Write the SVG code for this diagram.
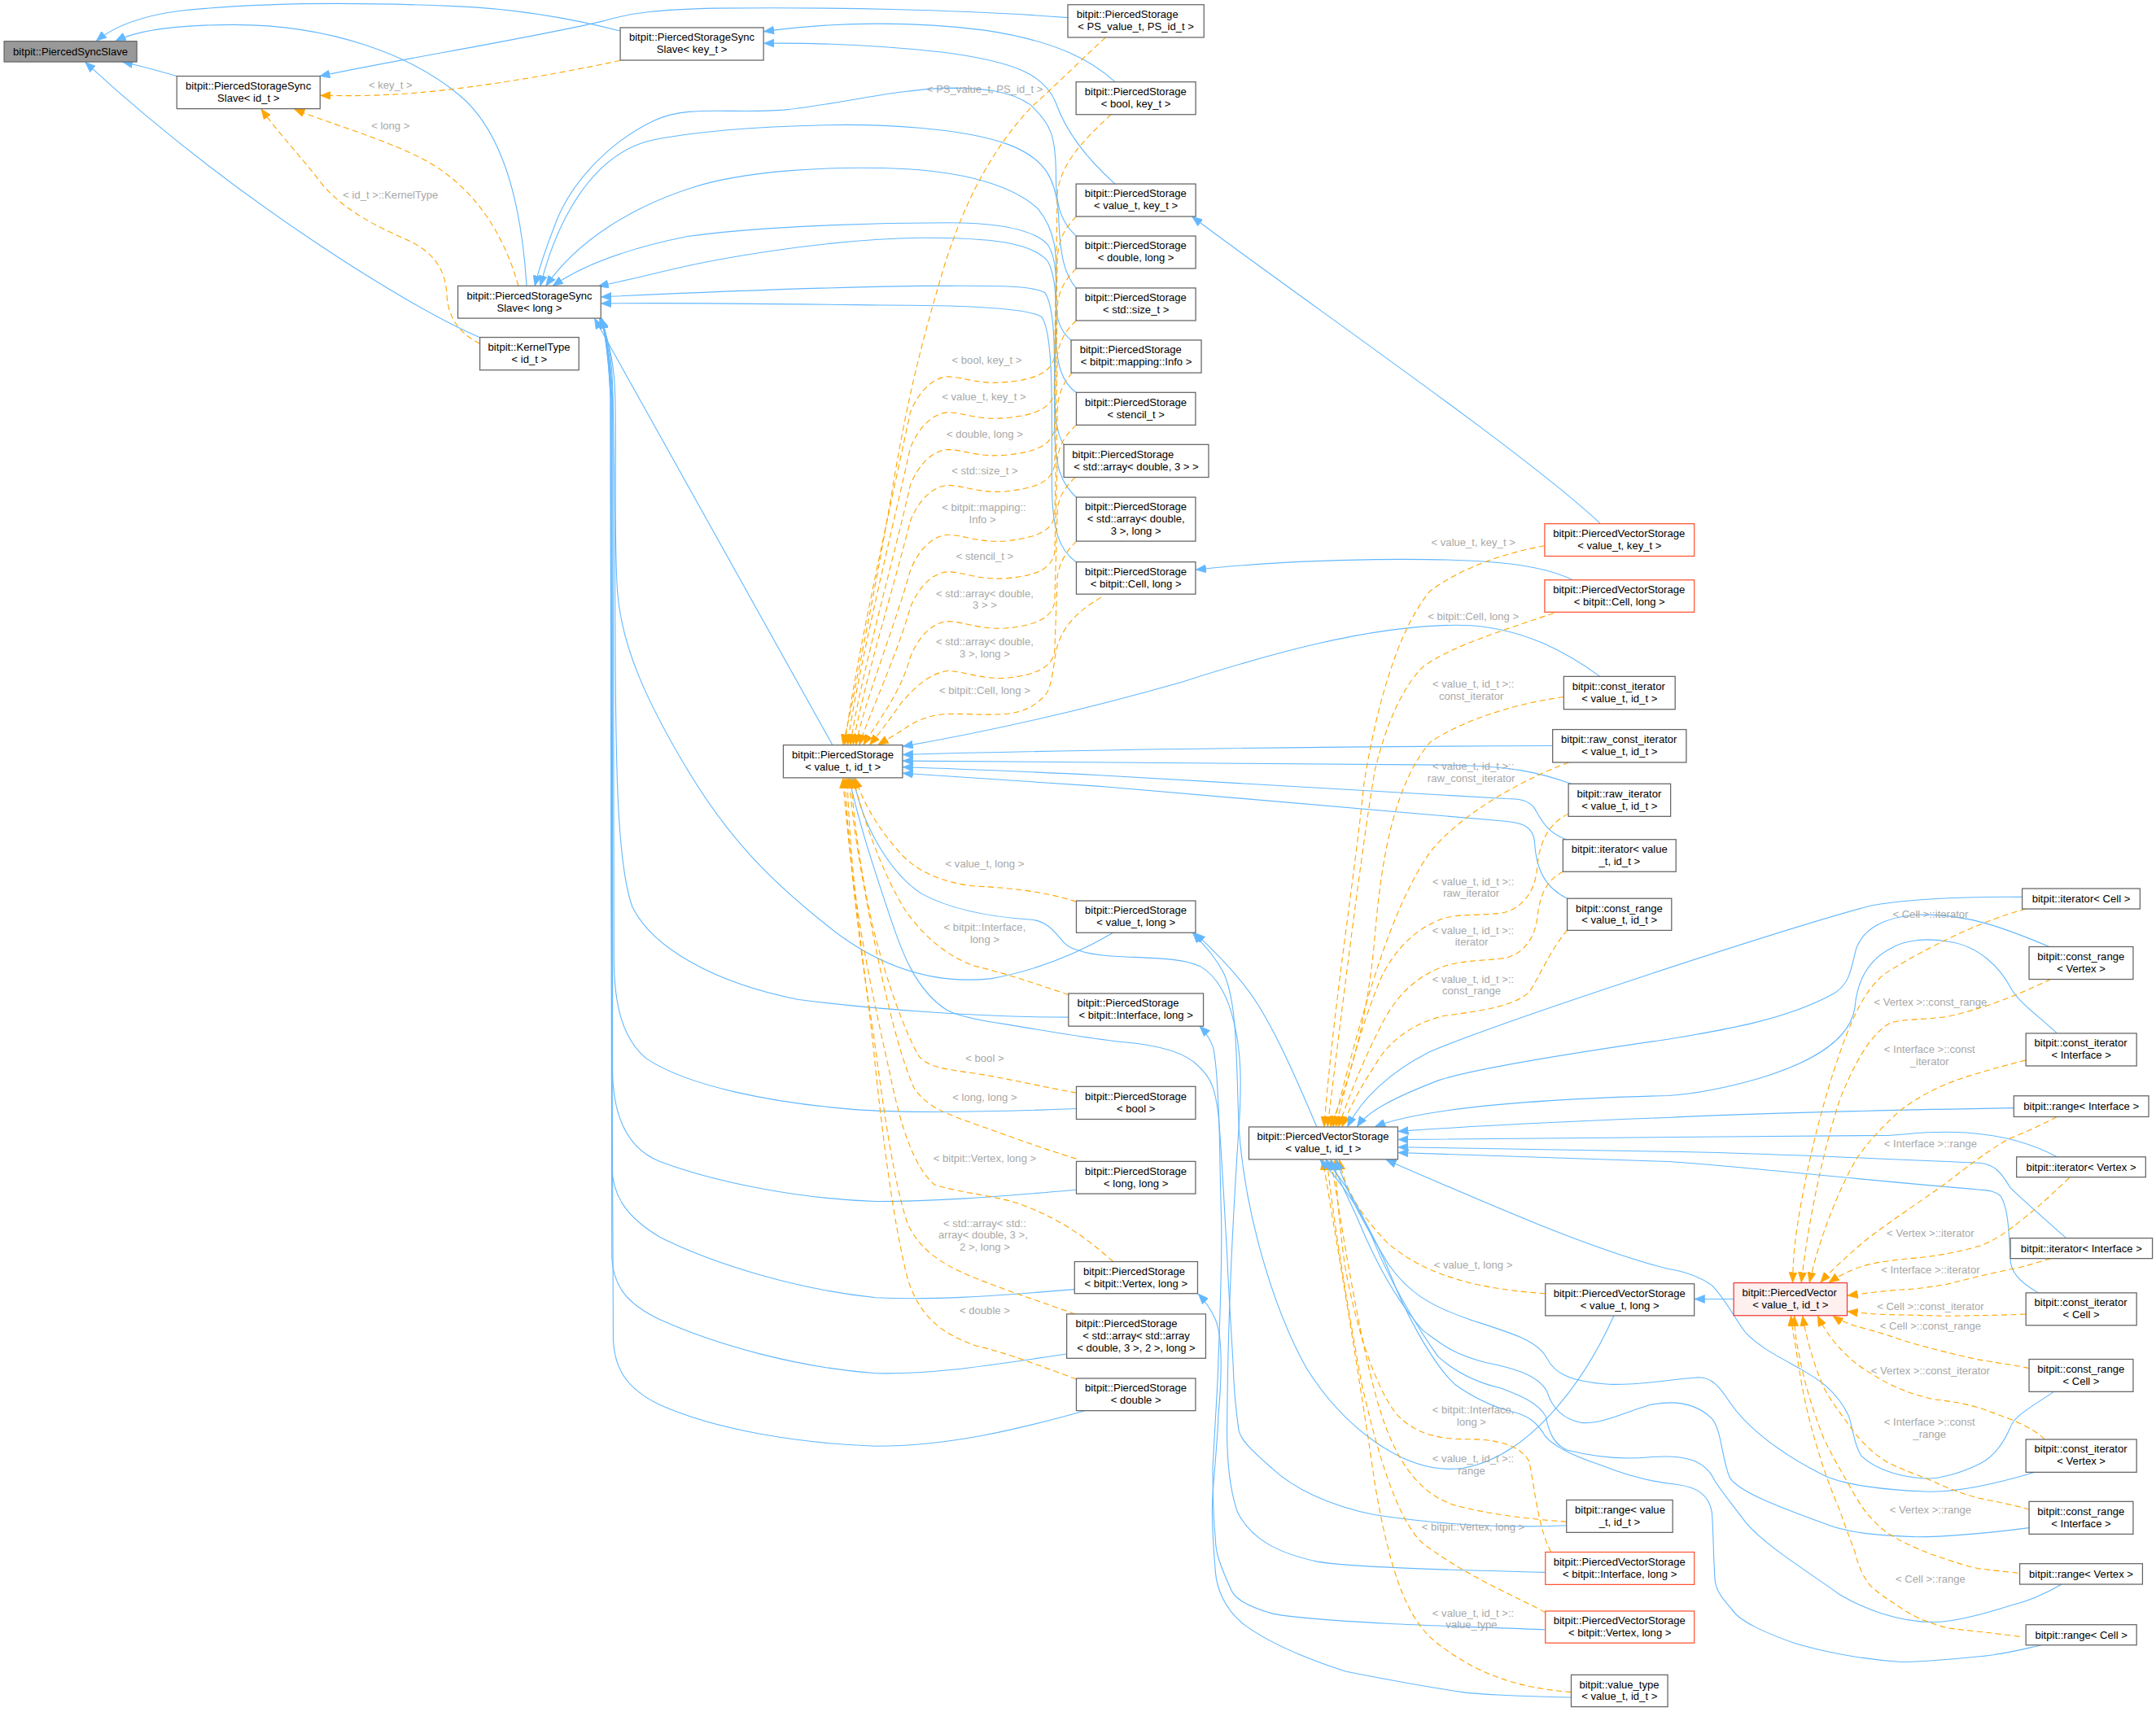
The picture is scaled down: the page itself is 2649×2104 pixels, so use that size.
<svg xmlns="http://www.w3.org/2000/svg" width="2649" height="2104" viewBox="0 0 2649 2104">
<style>
text{font-family:"Liberation Sans",Arial,Helvetica,sans-serif;font-size:7.75px;fill:#000}
.s{text-anchor:start}
.m{text-anchor:middle}
.lb{fill:#a8a8a8;text-anchor:middle}
.n rect{fill:#fff;stroke:#666;stroke-width:.75}
.nr rect{fill:#fff;stroke:#ff5533;stroke-width:.75}
.b{fill:none;stroke:#63b8ff;stroke-width:.65;marker-end:url(#ab)}
.o{fill:none;stroke:#ffa500;stroke-width:.65;stroke-dasharray:4.2 2.6;marker-end:url(#ao)}
</style>
<defs>
<marker id="ab" viewBox="0 0 10 8" refX="10" refY="4" markerWidth="7.5" markerHeight="6" markerUnits="userSpaceOnUse" orient="auto" preserveAspectRatio="none"><path d="M0,0 L10,4 L0,8 z" fill="#63b8ff" stroke="#63b8ff" stroke-width=".5"/></marker>
<marker id="ao" viewBox="0 0 10 8" refX="10" refY="4" markerWidth="7.5" markerHeight="6" markerUnits="userSpaceOnUse" orient="auto" preserveAspectRatio="none"><path d="M0,0 L10,4 L0,8 z" fill="#ffa500" stroke="#ffa500" stroke-width=".5"/></marker>
</defs>
<rect x="0" y="0" width="2649" height="2104" fill="#fff"/>
<g transform="scale(1.6894)">
<g id="connectors">
<!-- into PiercedSyncSlave -->
<path class="b" d="M129,55.5 C115,51.5 101,47.5 89,45"/>
<path class="b" d="M349,245.5 C300,225 170,145 62,45.2"/>
<path class="b" d="M383,208 C380,160 370,100 335,70 C300,40 240,18 170,18 C130,18 100,22 84,29.8"/>
<path class="b" d="M451.1,22.5 C410,12 370,6 330,4.5 C260,1.5 190,1.5 130,8 C100,12 82,20 70,29.8"/>
<!-- into SSid -->
<path class="b" d="M776.6,12.8 C700,7 600,5 520,6 C480,7 460,9 440,15 C380,29 290,43 232.5,55.4"/>
<path class="o" d="M451,44 C400,55 330,67 280,69 C260,70 245,69.5 233,69.5"/>
<path class="o" d="M377,208 C365,165 340,130 300,112 C270,98 240,90 214,79.3"/>
<path class="o" d="M349,250 C335,243 326,232 325,215 C324,195 315,183 295,174 C270,163 250,152 235,135 C220,115 205,100 190,79.3"/>
<!-- into SSkey -->
<path class="b" d="M811,59.6 C795,45 770,30 716,22 C670,16 610,15 555.5,23"/>
<path class="b" d="M811,133.8 C790,115 775,95 768,75 C760,55 740,45 686,38 C640,33 600,31 555.5,31.5"/>
<!-- PVS into PS -->
<path class="b" d="M1164,381 C1110,330 950,220 867,157.6"/>
<path class="b" d="M1144,422 C1120,410 1080,406 1000,407 C940,408 900,411 869.7,414.5"/>
<!-- column into SSlong (top) -->
<path class="b" d="M782.7,171.7 C772,162 768,150 768,130 C768,100 765,90 749,76 C735,66 715,64 690,64 C650,65 610,76 570,80 C530,83 500,76 475,88 C440,105 415,135 405,160 C398,178 392,195 389,208"/>
<path class="b" d="M782.7,209.6 C774,200 771,185 770,160 C769,130 760,115 733,105 C700,93 640,90 600,91 C550,92 500,96 470,103 C430,115 405,160 393,208"/>
<path class="b" d="M779,247.6 C770,240 767,230 768,210 C769,185 768,168 755,152 C740,138 710,126 660,123 C600,120 540,125 505,136 C460,150 420,175 397,208"/>
<path class="b" d="M782.8,285.6 C772,278 768,265 768,240 C768,210 770,190 762,178 C750,165 720,162 690,162 C620,162 540,166 500,172 C460,180 425,192 402,208"/>
<path class="b" d="M773.7,323.5 C768,315 766,300 767,270 C768,230 770,205 762,190 C750,176 720,173 670,173 C600,174 520,188 480,198 C460,203 445,206 435,208.3"/>
<path class="b" d="M782.8,361.8 C772,352 767,340 767,310 C767,260 768,225 760,213 C750,207 720,208 670,208 C600,209 520,212 437.2,216"/>
<path class="b" d="M782.8,409 C770,400 765,385 765,350 C765,290 766,245 758,231 C750,224 700,222 640,222 C560,221 490,220 437.2,220.8"/>
<!-- lower into SSlong (bottom) -->
<path class="b" d="M605.5,542 L432.4,231.6"/>
<path class="b" d="M809.6,678.5 C790,690 760,705 720,712 C680,716 640,705 600,672 C560,640 530,610 500,560 C470,510 452,470 449,430 C446,380 449,320 447,280 C446,262 442,245 436,231.6"/>
<path class="b" d="M777.1,740 C720,740 640,735 580,727 C520,715 475,690 460,660 C449,630 448,560 447.5,480 C447,380 447,300 445,270 C444,255 441,242 437,231.6"/>
<path class="b" d="M782.8,806.5 C720,809 660,810 620,807 C560,802 500,790 470,770 C452,755 447,730 446.5,700 C446,600 446.5,350 445.5,290 C444.5,265 441.5,245 437.5,231.6"/>
<path class="b" d="M782.8,865.5 C720,871 680,874 637,874 C580,872 520,860 480,845 C455,835 446,810 445.5,780 C445,650 446,360 445,290 C444,265 441,245 437.5,231.6"/>
<path class="b" d="M781.5,938 C720,943 680,946 637,944 C580,938 520,920 480,900 C455,885 446,870 445,850 C444.5,700 445.5,360 444.5,290 C443.5,265 441,245 437.5,231.6"/>
<path class="b" d="M775.8,985 C720,993 680,1000 637,999 C580,995 520,978 480,960 C455,948 446,935 445,915 C444,750 445,360 444,290 C443,265 440.5,245 437.5,231.6"/>
<path class="b" d="M789,1026.2 C740,1040 690,1052 637,1052 C580,1050 520,1040 480,1022 C455,1010 447,995 446,975 C444,800 445,360 444,290 C443,265 440.5,245 437.5,231.6"/>
<!-- into PSvi bottom (blue) -->
<path class="b" d="M1123.9,1143.8 C1050,1142 980,1140 958,1136 C930,1130 910,1120 900,1100 C893,1080 892,1050 892.5,1030 C893,960 897,880 901,820 C903,790 903,765 897,742 C893,725 885,710 873,703 C860,697 840,697 816,696 C795,695 780,692 774,686 C765,675 760,670 750,669 C720,667 690,661 670,650 C650,637 628,605 620.5,565.8"/>
<path class="b" d="M1139.3,1109.7 C1090,1112 1040,1108 1000,1102 C965,1095 940,1082 925,1068 C910,1055 903,1048 901,1041 C898,1020 897,1000 896.8,992 C895,960 893,930 892.6,916 C890,870 888,830 886,810 C884,795 882,785 872,776 C862,765 840,760 816,758 C790,755 760,750 731,745 C710,742 695,738 689,735 C665,720 655,690 647,666 C635,630 625,600 617.5,565.8"/>
<!-- into PS value_t,long / Interface / Vertex -->
<path class="b" d="M957.7,819.8 C945,790 930,755 915,731 C905,715 890,698 869,678.7"/>
<path class="b" d="M1173.7,957.2 C1150,1010 1110,1060 1064,1068 C1020,1074 975,1035 950,995 C925,950 905,880 901,820 C899,770 900,730 890,708 C884,696 876,688 867.5,678.7"/>
<path class="b" d="M1123.9,1185.5 C1050,1183 960,1180 926,1174 C905,1168 897,1162 894.7,1155 C888,1140 884,1130 884,1120 C882,1100 882,1080 882,1068 C884,1030 886,1000 886,992 C888,940 889,900 888,878 C887,840 887,815 886,803 C885,780 884,768 882,761 C880,756 877,751 872.5,746.6"/>
<path class="b" d="M1142.7,1234.8 C1100,1234 1070,1232 1063.8,1231 C1030,1226 1000,1220 979,1216 C945,1205 920,1193 905,1182 C890,1170 885,1155 884,1144 C882,1120 881,1100 882,1087 C884,1060 886,1040 886,1030 C888,1010 888,1000 888,992 C888,975 886,965 884,960 C881,953 877,947 871.5,941.2"/>
<path class="b" d="M1260.9,945 L1232.3,945"/>
<!-- into PSvi right side -->
<path class="b" d="M1163.6,492.1 C1140,475 1110,458 1070,455 C1000,452 910,480 860,496 C790,516 720,532 656.5,543"/>
<path class="b" d="M1129.2,542.5 C1000,543 800,545 656.5,549"/>
<path class="b" d="M1142.7,570.2 C1120,562 1100,557 1050,556.5 C900,555 750,554 656.5,553.5"/>
<path class="b" d="M1139.3,610.7 C1125,606 1120,595 1116,588 C1112,582 1105,581 1095,581 C1000,576 900,570 800,564 C740,561 690,559 656.5,558"/>
<path class="b" d="M1139.8,653.6 C1122,645 1117,630 1116,612 C1115,600 1105,598 1090,597 C1000,590 900,580 800,572 C740,568 690,565 656.5,562.5"/>
<!-- orange into PSvi top -->
<path class="o" d="M804,27.3 C790,40 770,60 750,78 C720,110 700,150 686,196 C670,250 660,290 650,350 C640,410 628,470 620,510 C617,525 615,533 613,541.8"/>
<path class="o" d="M808,83.3 C796,95 772,115 769,140 L767,259 C765,270 755,276 731,278 C712,280 700,274 689,274 C678,275 668,285 662,300 C652,348 620,490 614.5,541.8"/>
<path class="o" d="M782.8,157.5 C775,165 769,175 769,190 L767,285 C765,296 755,302 731,304 C712,306 700,300 689,300 C678,301 668,311 662,326 C652,372 622,495 616.5,541.8"/>
<path class="o" d="M782.8,195.3 C775,203 769,212 769,225 L767,312 C765,323 755,329 731,331 C712,333 700,327 689,327 C678,328 668,338 662,353 C652,398 624,500 618.5,541.8"/>
<path class="o" d="M782.8,233.2 C775,240 769,250 769,262 L767,338 C765,350 755,355 731,357.5 C712,359 700,353 689,353 C678,354 668,364 662,379 C652,420 626,505 620.5,541.8"/>
<path class="o" d="M780,271.2 C773,278 769,288 769,300 L767,375 C765,386 755,391 731,393.6 C712,395 700,389 689,389 C678,390 668,400 662,415 C652,452 628,512 622.5,541.8"/>
<path class="o" d="M782.8,309.2 C775,316 769,325 769,337 L767,402 C765,413 755,419 731,420.8 C712,422 700,416 689,416 C678,417 668,427 662,442 C653,475 632,520 625,541.8"/>
<path class="o" d="M782,347.2 C775,354 769,362 769,373 L767,438 C765,449 755,455 731,457 C712,458 700,452 689,452 C678,453 668,463 662,478 C655,505 636,528 628,541.8"/>
<path class="o" d="M783,393.7 C776,400 770,410 769,420 L767,474 C765,485 755,491 731,493.3 C712,494 700,488 689,488 C676,490 665,500 655,512 C648,522 640,533 632.5,541.8"/>
<path class="o" d="M801,434.4 C785,444 772,455 768,474 C766,485 765,500 760,506 C752,514 745,518 731,519.4 C715,520.5 700,519 689,519.4 C675,520 665,525 658,530 C652,534 645,538 638.5,541.8"/>
<!-- orange into PSvi bottom -->
<path class="o" d="M782.8,656 C765,650 740,646 710,644.7 C690,643 670,636 657,623 C640,605 628,585 622,566"/>
<path class="o" d="M777.1,723.6 C760,718 735,709 710,703 C690,697 670,680 657,660 C645,640 630,605 620.5,566"/>
<path class="o" d="M782.8,795 C760,791 735,785 710,781 C690,778 675,777 668,768 C658,750 645,715 635,675 C627,640 621,600 619,566"/>
<path class="o" d="M782.8,843 C760,836 735,827 710,818 C690,811 675,806 665,792 C655,770 645,730 635,680 C627,640 620,600 617.5,566"/>
<path class="o" d="M809.6,917.8 C795,905 775,888 742,876 C725,870 700,868 680,862 C665,850 655,820 647,780 C638,740 625,680 621,640 C618,610 617,585 616,566"/>
<path class="o" d="M782,956 C760,948 735,940 710,930 C690,922 670,912 660,890 C650,860 643,810 635,750 C625,690 617,620 614.5,566"/>
<path class="o" d="M782.8,1003.3 C760,995 735,985 710,979 C690,972 670,962 660,930 C650,890 642,830 635,760 C627,690 617,620 613,566"/>
<!-- orange into PVSvi top -->
<path class="o" d="M1123.4,397 C1090,403 1060,415 1040,430 C1015,460 1000,520 992,570 C985,640 970,730 963,819.6"/>
<path class="o" d="M1130,446 C1095,458 1055,470 1035,485 C1015,505 1005,540 1000,560 C993,600 980,700 965.5,819.6"/>
<path class="o" d="M1137.3,507 C1100,512 1062,525 1040,540 C1015,570 1005,620 1000,680 C995,740 982,785 967.5,819.6"/>
<path class="o" d="M1141,554.6 C1100,570 1060,595 1040,620 C1012,660 992,730 969.5,819.6"/>
<path class="o" d="M1140.7,592 C1128,598 1120,610 1118,630 C1117,650 1105,663 1090,664.5 C1075,666 1060,665 1050,668 C1030,675 1015,690 1005,710 C990,745 980,785 971.5,819.6"/>
<path class="o" d="M1137,634 C1125,640 1120,650 1118,668 C1116,685 1105,696 1092,697.3 C1075,699 1062,699 1050,703 C1030,710 1015,725 1005,745 C992,770 982,795 973.5,819.6"/>
<path class="o" d="M1140,676.5 C1128,690 1120,710 1112,722 C1100,732 1080,735 1050,739 C1025,745 1008,760 1000,775 C990,790 982,805 976,819.6"/>
<!-- orange into PVSvi bottom -->
<path class="o" d="M1123.9,941 C1080,938 1040,930 1010,905 C990,885 978,865 974,843.6"/>
<path class="o" d="M1128,1129 C1118,1110 1116,1080 1112,1063 C1105,1050 1085,1047 1069,1047 C1050,1047 1030,1045 1015,1028 C998,1005 985,960 978,920 C974,890 972,865 971,843.6"/>
<path class="o" d="M1139.3,1107 C1110,1105 1080,1101 1058,1095 C1040,1089 1020,1075 1005,1030 C992,990 980,920 968,843.6"/>
<path class="o" d="M1123.9,1173 C1100,1160 1069,1148 1035,1123 C1015,1105 1000,1050 990,1005 C980,950 970,890 965,843.6"/>
<path class="o" d="M1142.7,1231 C1110,1228 1080,1222 1046,1196 C1025,1180 1012,1150 1000,1080 C990,1010 975,920 962,843.6"/>
<!-- right column blue into PVSvi -->
<path class="b" d="M1470.7,652.5 C1420,652 1380,655 1360,659 C1300,675 1100,740 1040,765 C1010,780 990,800 980,819.6"/>
<path class="b" d="M1490.4,688.7 C1460,676 1430,664 1395,665.5 C1370,667 1355,676 1350,690 C1346,705 1346,714 1335,722 C1300,742 1250,750 1213,756 C1130,768 1070,778 1046,786 C1015,798 995,808 987,819.6"/>
<path class="b" d="M1496,751.7 C1480,737 1467,728 1462,718 C1455,705 1440,688 1417,685 C1400,682 1385,684 1375,690 C1355,700 1350,720 1349,733 C1345,760 1310,775 1281,784 C1250,793 1230,796 1213,797 C1100,800 1030,808 1000,819.6"/>
<path class="b" d="M1464.6,806 C1350,808 1250,811 1213,813 C1130,816 1060,820 1016.8,823"/>
<path class="b" d="M1496,841.6 C1480,833 1460,826 1430,824 C1400,822 1385,826 1370,826 C1250,827 1100,828 1016.8,829"/>
<path class="b" d="M1502.8,900.7 C1485,885 1470,872 1462,864 C1455,852 1450,847 1440,846 C1350,842 1250,838 1213,837.7 C1130,836 1060,835 1016.8,834.5"/>
<path class="b" d="M1482.5,940.5 C1468,932 1462,925 1462,915 C1461,892 1460,878 1455,870 C1450,866 1446,866 1440,865.5 C1350,858 1250,847 1213,845 C1130,842 1060,840 1016.8,838.5"/>
<path class="b" d="M1493.8,1012.4 C1475,1025 1465,1030 1462,1038.5 C1457,1050 1450,1060 1439.5,1065 C1425,1072 1410,1076 1401,1075.5 C1385,1075 1365,1070 1353.6,1059 C1348,1050 1348,1040 1344.5,1030 C1335,1010 1320,1002 1308,995 C1290,985 1280,980 1270,970 C1262,960 1255,945 1245,935 C1235,928 1225,925 1213,923 C1160,910 1080,875 1008,843.6"/>
<path class="b" d="M1480,1071 C1450,1080 1420,1086 1400,1085 C1370,1084 1340,1080 1326,1073 C1290,1055 1268,1035 1258,1020 C1250,1008 1245,1002 1235,1002 C1210,1004 1190,1008 1170,1007 C1140,1005 1130,998 1125,988 C1118,975 1100,970 1069,960 C1040,950 1024,940 1010,920 C995,895 980,870 972,843.6"/>
<path class="b" d="M1475.7,1111.4 C1440,1116 1410,1118 1394,1118 C1360,1117 1340,1114 1326,1108 C1290,1095 1265,1085 1258,1075 C1252,1060 1252,1040 1245,1032 C1235,1022 1220,1018 1200,1022 C1180,1028 1165,1036 1150,1035 C1135,1032 1128,1022 1125,1012 C1118,1000 1100,995 1080,991 C1055,985 1045,975 1035,968 C1010,940 995,905 988,888 C980,870 972,855 968,843.6"/>
<path class="b" d="M1499.4,1152.5 C1490,1158 1475,1165 1462,1168 C1440,1175 1420,1180 1406,1180 C1380,1180 1355,1170 1338,1160 C1310,1140 1285,1125 1270,1108 C1258,1092 1252,1085 1247,1077 C1240,1062 1225,1058 1200,1060 C1180,1062 1160,1060 1140,1055 C1128,1050 1126,1038 1124,1030 C1118,1020 1105,1015 1092,1010 C1070,1005 1055,995 1046,987 C1030,965 1010,930 1000,905 C990,880 978,860 964,843.6"/>
<path class="b" d="M1484.7,1196.7 C1470,1200 1455,1204 1439.5,1205 C1420,1207 1400,1209 1383,1209 C1350,1207 1320,1200 1304,1195 C1285,1188 1265,1180 1259,1170 C1250,1160 1247,1155 1247,1145 C1246,1130 1246,1110 1245,1100 C1243,1088 1235,1082 1220,1080 C1200,1078 1180,1072 1165,1066 C1140,1058 1128,1050 1124,1045 C1118,1035 1112,1030 1100,1027 C1080,1022 1065,1012 1058,1007 C1040,990 1020,950 1012,929 C1000,900 985,870 960,843.6"/>
<!-- right column orange into PiercedVector -->
<path class="o" d="M1473.4,661.2 C1440,670 1400,690 1371.7,707.7 C1355,720 1345,745 1335,775 C1320,820 1310,870 1306,900 C1304,915 1304,925 1303.8,933"/>
<path class="o" d="M1491.5,712.4 C1475,720 1450,732 1416.9,739.4 C1400,742 1385,741 1375,744 C1360,752 1348,775 1338,800 C1325,840 1315,890 1310,933"/>
<path class="o" d="M1473.4,771.2 C1455,776 1440,780 1428,784 C1410,790 1395,798 1383,807 C1368,820 1355,835 1349,845 C1335,870 1322,905 1316,933"/>
<path class="o" d="M1496,812.4 C1485,818 1475,823 1462,828 C1440,840 1420,858 1405,868 C1385,882 1365,895 1350,908 C1340,917 1330,926 1324,933"/>
<path class="o" d="M1505,856.8 C1495,866 1485,876 1473.4,885 C1460,896 1450,903 1439.5,906.4 C1420,912 1405,914 1394,915 C1375,917 1365,918 1355,921 C1345,924 1336,929 1330,933"/>
<path class="o" d="M1491.5,915.5 C1480,919 1470,922 1462,923.4 C1440,928 1425,932 1416.9,934 C1400,937 1390,938 1383,938.2 C1370,939 1355,941 1343.6,942.5"/>
<path class="o" d="M1473.4,956 C1450,957 1430,957 1416.9,957.3 C1400,957 1385,956.5 1372,956.3 C1362,956 1352,955 1343.6,954"/>
<path class="o" d="M1475.7,995.3 C1465,993 1450,991 1439.5,989.2 C1420,985 1400,980 1383,974.8 C1370,970 1358,967 1349,964.5 C1342,962 1337,960 1333,957.2"/>
<path class="o" d="M1487,1047 C1480,1040 1470,1036 1462,1032.3 C1450,1028 1445,1026 1439.5,1024.1 C1425,1020 1415,1019 1405.6,1017.9 C1390,1014 1380,1010 1371.7,1005.6 C1362,1000 1355,996 1349,991.2 C1338,982 1328,970 1322,957.2"/>
<path class="o" d="M1476,1098 C1465,1095 1450,1092 1439.5,1089.9 C1425,1086 1415,1082 1405.6,1077.5 C1390,1071 1380,1068 1371.7,1063.1 C1362,1057 1355,1050 1349,1042.6 C1340,1030 1332,1020 1326.5,1009.7 C1318,990 1313,970 1311,957.2"/>
<path class="o" d="M1467.7,1144.3 C1455,1143 1448,1142 1439.5,1141.2 C1425,1138 1415,1134 1405.6,1131 C1390,1125 1380,1120 1371.7,1114.5 C1360,1105 1355,1098 1349,1087.8 C1340,1072 1333,1060 1326.5,1046.7 C1318,1025 1312,1005 1308.4,985 C1306,975 1305,965 1305,957.2"/>
<path class="o" d="M1468.9,1190.6 C1450,1188 1430,1186 1416.9,1184.4 C1400,1180 1390,1175 1383,1170 C1372,1163 1365,1158 1360.4,1153.6 C1354,1146 1351,1137 1349,1128.9 C1345,1118 1341,1108 1337.8,1098.1 C1330,1080 1325,1065 1319.7,1046.7 C1312,1020 1309,1000 1306,980 C1304,970 1303,962 1302.5,957.2"/>
<!-- edge labels -->
<text class="lb" x="284" y="64.5">&lt; key_t &gt;</text>
<text class="lb" x="284" y="94.1">&lt; long &gt;</text>
<text class="lb" x="284" y="144.4">&lt; id_t &gt;::KernelType</text>
<text class="lb" x="716.3" y="67.5">&lt; PS_value_t, PS_id_t &gt;</text>
<text class="lb" x="717.7" y="264.3">&lt; bool, key_t &gt;</text>
<text class="lb" x="715.6" y="291.5">&lt; value_t, key_t &gt;</text>
<text class="lb" x="716.2" y="318.2">&lt; double, long &gt;</text>
<text class="lb" x="716.2" y="344.9">&lt; std::size_t &gt;</text>
<text class="lb" x="715.6" y="371.9">&lt; bitpit::mapping::</text>
<text class="lb" x="714.5" y="380.5">Info &gt;</text>
<text class="lb" x="716.2" y="407.4">&lt; stencil_t &gt;</text>
<text class="lb" x="716.2" y="434.2">&lt; std::array&lt; double,</text>
<text class="lb" x="716.2" y="442.8">3 &gt; &gt;</text>
<text class="lb" x="716.2" y="469.5">&lt; std::array&lt; double,</text>
<text class="lb" x="716.2" y="478.3">3 &gt;, long &gt;</text>
<text class="lb" x="716.2" y="505.1">&lt; bitpit::Cell, long &gt;</text>
<text class="lb" x="716.2" y="630.7">&lt; value_t, long &gt;</text>
<text class="lb" x="716.2" y="677.2">&lt; bitpit::Interface,</text>
<text class="lb" x="716.2" y="686.1">long &gt;</text>
<text class="lb" x="716.2" y="772.2">&lt; bool &gt;</text>
<text class="lb" x="716.2" y="800.8">&lt; long, long &gt;</text>
<text class="lb" x="716.2" y="845.3">&lt; bitpit::Vertex, long &gt;</text>
<text class="lb" x="716.2" y="892.7">&lt; std::array&lt; std::</text>
<text class="lb" x="715" y="901.2">array&lt; double, 3 &gt;,</text>
<text class="lb" x="716.2" y="909.9">2 &gt;, long &gt;</text>
<text class="lb" x="716.2" y="955.8">&lt; double &gt;</text>
<text class="lb" x="1071.5" y="397">&lt; value_t, key_t &gt;</text>
<text class="lb" x="1071.5" y="450.8">&lt; bitpit::Cell, long &gt;</text>
<text class="lb" x="1071.5" y="500.4">&lt; value_t, id_t &gt;::</text>
<text class="lb" x="1070" y="509.1">const_iterator</text>
<text class="lb" x="1071.5" y="560.1">&lt; value_t, id_t &gt;::</text>
<text class="lb" x="1070" y="569">raw_const_iterator</text>
<text class="lb" x="1071.5" y="644.3">&lt; value_t, id_t &gt;::</text>
<text class="lb" x="1070" y="652.5">raw_iterator</text>
<text class="lb" x="1071.4" y="679.5">&lt; value_t, id_t &gt;::</text>
<text class="lb" x="1070.2" y="687.6">iterator</text>
<text class="lb" x="1071.4" y="715.1">&lt; value_t, id_t &gt;::</text>
<text class="lb" x="1070.2" y="723.2">const_range</text>
<text class="lb" x="1071.4" y="922.7">&lt; value_t, long &gt;</text>
<text class="lb" x="1071.4" y="1028.2">&lt; bitpit::Interface,</text>
<text class="lb" x="1070.2" y="1037.1">long &gt;</text>
<text class="lb" x="1071.4" y="1063.8">&lt; value_t, id_t &gt;::</text>
<text class="lb" x="1070.2" y="1072.3">range</text>
<text class="lb" x="1071.4" y="1113.7">&lt; bitpit::Vertex, long &gt;</text>
<text class="lb" x="1071.4" y="1175.9">&lt; value_t, id_t &gt;::</text>
<text class="lb" x="1070.2" y="1184.4">value_type</text>
<text class="lb" x="1404" y="667.5">&lt; Cell &gt;::iterator</text>
<text class="lb" x="1404" y="731.7">&lt; Vertex &gt;::const_range</text>
<text class="lb" x="1403.3" y="766">&lt; Interface &gt;::const</text>
<text class="lb" x="1403.3" y="774.9">_iterator</text>
<text class="lb" x="1404" y="834.9">&lt; Interface &gt;::range</text>
<text class="lb" x="1404" y="899.7">&lt; Vertex &gt;::iterator</text>
<text class="lb" x="1404" y="926.5">&lt; Interface &gt;::iterator</text>
<text class="lb" x="1404" y="953.2">&lt; Cell &gt;::const_iterator</text>
<text class="lb" x="1404" y="967">&lt; Cell &gt;::const_range</text>
<text class="lb" x="1404" y="999.5">&lt; Vertex &gt;::const_iterator</text>
<text class="lb" x="1403.3" y="1037.3">&lt; Interface &gt;::const</text>
<text class="lb" x="1403.3" y="1045.9">_range</text>
<text class="lb" x="1404" y="1101.2">&lt; Vertex &gt;::range</text>
<text class="lb" x="1404" y="1151.1">&lt; Cell &gt;::range</text>
</g>
<!-- nodes -->
<g id="n_pss"><rect x="3" y="30" width="96.5" height="15" fill="#999" stroke="#666" stroke-width=".75"/><text class="m" x="51.25" y="40.3">bitpit::PiercedSyncSlave</text></g>
<g id="n_ssid" class="n"><rect x="128.6" y="55.4" width="104.2" height="23.7"/><text class="s" x="135" y="65.1">bitpit::PiercedStorageSync</text><text class="m" x="180.7" y="74">Slave&lt; id_t &gt;</text></g>
<g id="n_sskey" class="n"><rect x="451.1" y="20.1" width="104.2" height="23.7"/><text class="s" x="457.5" y="29.8">bitpit::PiercedStorageSync</text><text class="m" x="503.2" y="38.7">Slave&lt; key_t &gt;</text></g>
<g id="n_sslong" class="n"><rect x="333" y="208" width="104" height="23.5"/><text class="s" x="339.4" y="217.7">bitpit::PiercedStorageSync</text><text class="m" x="385" y="226.6">Slave&lt; long &gt;</text></g>
<g id="n_kernel" class="n"><rect x="349" y="245.4" width="72" height="23.8"/><text class="s" x="354.9" y="255.1">bitpit::KernelType</text><text class="m" x="385" y="264">&lt; id_t &gt;</text></g>
<g id="n_ps_ps" class="n"><rect x="776.6" y="3.4" width="99" height="23.8"/><text class="s" x="782.9" y="13.1">bitpit::PiercedStorage</text><text class="m" x="826.1" y="22">&lt; PS_value_t, PS_id_t &gt;</text></g>
<g id="n_ps_bk" class="n"><rect x="782.6" y="59.6" width="87" height="23.7"/><text class="s" x="788.9" y="69.3">bitpit::PiercedStorage</text><text class="m" x="826.1" y="78.2">&lt; bool, key_t &gt;</text></g>
<g id="n_ps_vk" class="n"><rect x="782.6" y="133.8" width="87" height="23.7"/><text class="s" x="788.9" y="143.5">bitpit::PiercedStorage</text><text class="m" x="826.1" y="152.4">&lt; value_t, key_t &gt;</text></g>
<g id="n_ps_dl" class="n"><rect x="782.6" y="171.7" width="87" height="23.6"/><text class="s" x="788.9" y="181.4">bitpit::PiercedStorage</text><text class="m" x="826.1" y="190.3">&lt; double, long &gt;</text></g>
<g id="n_ps_sz" class="n"><rect x="782.6" y="209.5" width="87" height="23.7"/><text class="s" x="788.9" y="219.2">bitpit::PiercedStorage</text><text class="m" x="826.1" y="228.1">&lt; std::size_t &gt;</text></g>
<g id="n_ps_mi" class="n"><rect x="779" y="247.4" width="94.7" height="23.8"/><text class="s" x="785.3" y="257.1">bitpit::PiercedStorage</text><text class="m" x="826.35" y="266">&lt; bitpit::mapping::Info &gt;</text></g>
<g id="n_ps_st" class="n"><rect x="782.8" y="285.5" width="86.7" height="23.7"/><text class="s" x="789.1" y="295.2">bitpit::PiercedStorage</text><text class="m" x="826.15" y="304.1">&lt; stencil_t &gt;</text></g>
<g id="n_ps_a3" class="n"><rect x="773.7" y="323.4" width="105.3" height="23.8"/><text class="s" x="779.7" y="333.1">bitpit::PiercedStorage</text><text class="m" x="826.35" y="342">&lt; std::array&lt; double, 3 &gt; &gt;</text></g>
<g id="n_ps_a3l" class="n"><rect x="782.8" y="361.7" width="86.7" height="32"/><text class="s" x="789.1" y="371.4">bitpit::PiercedStorage</text><text class="m" x="826.15" y="380.3">&lt; std::array&lt; double,</text><text class="m" x="826.15" y="389">3 &gt;, long &gt;</text></g>
<g id="n_ps_cl" class="n"><rect x="782.8" y="408.8" width="86.7" height="23.4"/><text class="s" x="789.1" y="418.5">bitpit::PiercedStorage</text><text class="m" x="826.15" y="427.4">&lt; bitpit::Cell, long &gt;</text></g>
<g id="n_psvi" class="n"><rect x="569.7" y="542" width="86.7" height="23.8"/><text class="s" x="576" y="551.7">bitpit::PiercedStorage</text><text class="m" x="613.05" y="560.6">&lt; value_t, id_t &gt;</text></g>
<g id="n_ps_vl" class="n"><rect x="782.8" y="655.3" width="86.7" height="23.2"/><text class="s" x="789.1" y="664.9">bitpit::PiercedStorage</text><text class="m" x="826.15" y="673.7">&lt; value_t, long &gt;</text></g>
<g id="n_ps_il" class="n"><rect x="777.1" y="722.7" width="98.1" height="23.8"/><text class="s" x="783.4" y="732.4">bitpit::PiercedStorage</text><text class="m" x="826.15" y="741.3">&lt; bitpit::Interface, long &gt;</text></g>
<g id="n_ps_b" class="n"><rect x="782.8" y="790.4" width="86.7" height="23.8"/><text class="s" x="789.1" y="800.1">bitpit::PiercedStorage</text><text class="m" x="826.15" y="809">&lt; bool &gt;</text></g>
<g id="n_ps_ll" class="n"><rect x="782.8" y="844.9" width="86.7" height="23.5"/><text class="s" x="789.1" y="854.6">bitpit::PiercedStorage</text><text class="m" x="826.15" y="863.5">&lt; long, long &gt;</text></g>
<g id="n_ps_vxl" class="n"><rect x="781.5" y="917.8" width="89.5" height="23.2"/><text class="s" x="787.8" y="927.4">bitpit::PiercedStorage</text><text class="m" x="826.25" y="936.2">&lt; bitpit::Vertex, long &gt;</text></g>
<g id="n_ps_aa" class="n"><rect x="775.8" y="955.9" width="101.1" height="32.2"/><text class="s" x="782.2" y="965.6">bitpit::PiercedStorage</text><text class="m" x="826.35" y="974.5">&lt; std::array&lt; std::array</text><text class="m" x="826.35" y="983.2">&lt; double, 3 &gt;, 2 &gt;, long &gt;</text></g>
<g id="n_ps_d" class="n"><rect x="782.8" y="1002.7" width="86.7" height="23.5"/><text class="s" x="789.1" y="1012.4">bitpit::PiercedStorage</text><text class="m" x="826.15" y="1021.3">&lt; double &gt;</text></g>
<g id="n_pvs_vk" class="nr"><rect x="1123.4" y="381" width="108.8" height="23.6"/><text class="s" x="1129.5" y="390.7">bitpit::PiercedVectorStorage</text><text class="m" x="1177.8" y="399.6">&lt; value_t, key_t &gt;</text></g>
<g id="n_pvs_cl" class="nr"><rect x="1123.4" y="421.9" width="108.8" height="23.4"/><text class="s" x="1129.5" y="431.6">bitpit::PiercedVectorStorage</text><text class="m" x="1177.8" y="440.5">&lt; bitpit::Cell, long &gt;</text></g>
<g id="n_ci_vi" class="n"><rect x="1137.3" y="492.1" width="81" height="23.9"/><text class="s" x="1143.4" y="501.8">bitpit::const_iterator</text><text class="m" x="1177.8" y="510.7">&lt; value_t, id_t &gt;</text></g>
<g id="n_rci_vi" class="n"><rect x="1129.2" y="530.7" width="97.2" height="23.9"/><text class="s" x="1135.3" y="540.4">bitpit::raw_const_iterator</text><text class="m" x="1177.8" y="549.3">&lt; value_t, id_t &gt;</text></g>
<g id="n_ri_vi" class="n"><rect x="1140.7" y="570.2" width="74.3" height="23.7"/><text class="s" x="1146.8" y="579.9">bitpit::raw_iterator</text><text class="m" x="1177.85" y="588.8">&lt; value_t, id_t &gt;</text></g>
<g id="n_i_vi" class="n"><rect x="1136.7" y="610.7" width="82.2" height="23.4"/><text class="s" x="1142.8" y="620.4">bitpit::iterator&lt; value</text><text class="m" x="1177.8" y="629.3">_t, id_t &gt;</text></g>
<g id="n_cr_vi" class="n"><rect x="1139.8" y="653.6" width="75.9" height="23.2"/><text class="s" x="1145.9" y="663.3">bitpit::const_range</text><text class="m" x="1177.75" y="672.1">&lt; value_t, id_t &gt;</text></g>
<g id="n_pvsvi" class="n"><rect x="908.3" y="819.8" width="108.3" height="23.6"/><text class="s" x="914.2" y="829.5">bitpit::PiercedVectorStorage</text><text class="m" x="962.45" y="838.4">&lt; value_t, id_t &gt;</text></g>
<g id="n_pvs_vl" class="n"><rect x="1123.9" y="933.9" width="108.3" height="23.2"/><text class="s" x="1129.8" y="943.5">bitpit::PiercedVectorStorage</text><text class="m" x="1178.05" y="952.3">&lt; value_t, long &gt;</text></g>
<g id="n_r_vi" class="n"><rect x="1139.3" y="1091.2" width="77.2" height="23.6"/><text class="s" x="1145.4" y="1100.9">bitpit::range&lt; value</text><text class="m" x="1177.9" y="1109.8">_t, id_t &gt;</text></g>
<g id="n_pvs_il" class="nr"><rect x="1123.9" y="1129.1" width="108.3" height="23.6"/><text class="s" x="1129.8" y="1138.8">bitpit::PiercedVectorStorage</text><text class="m" x="1178.05" y="1147.7">&lt; bitpit::Interface, long &gt;</text></g>
<g id="n_pvs_vxl" class="nr"><rect x="1123.9" y="1172" width="108.3" height="23.2"/><text class="s" x="1129.8" y="1181.6">bitpit::PiercedVectorStorage</text><text class="m" x="1178.05" y="1190.4">&lt; bitpit::Vertex, long &gt;</text></g>
<g id="n_vt_vi" class="n"><rect x="1142.7" y="1218.4" width="70.2" height="23.2"/><text class="s" x="1148.6" y="1228">bitpit::value_type</text><text class="m" x="1177.8" y="1236.8">&lt; value_t, id_t &gt;</text></g>
<g id="n_pv"><rect x="1260.9" y="933.2" width="82.5" height="23.8" fill="#fff0f0" stroke="#ee3b3b" stroke-width=".75"/><text class="s" x="1267" y="942.9">bitpit::PiercedVector</text><text class="m" x="1302.15" y="951.8">&lt; value_t, id_t &gt;</text></g>
<g id="n_it_cell" class="n"><rect x="1470.7" y="646.4" width="85.7" height="14.8"/><text class="m" x="1513.55" y="656.5">bitpit::iterator&lt; Cell &gt;</text></g>
<g id="n_cr_vertex" class="n"><rect x="1475.7" y="688.7" width="75.7" height="23.7"/><text class="s" x="1481.8" y="698.4">bitpit::const_range</text><text class="m" x="1513.55" y="707.3">&lt; Vertex &gt;</text></g>
<g id="n_ci_interface" class="n"><rect x="1473.4" y="751.7" width="80.5" height="23.7"/><text class="s" x="1479.5" y="761.4">bitpit::const_iterator</text><text class="m" x="1513.65" y="770.3">&lt; Interface &gt;</text></g>
<g id="n_r_interface" class="n"><rect x="1464.6" y="797.2" width="98.1" height="15.2"/><text class="m" x="1513.65" y="807.5">bitpit::range&lt; Interface &gt;</text></g>
<g id="n_it_vertex" class="n"><rect x="1466.6" y="841.6" width="93.9" height="14.7"/><text class="m" x="1513.55" y="851.7">bitpit::iterator&lt; Vertex &gt;</text></g>
<g id="n_it_interface" class="n"><rect x="1462.1" y="900.7" width="103.3" height="14.8"/><text class="m" x="1513.75" y="910.8">bitpit::iterator&lt; Interface &gt;</text></g>
<g id="n_ci_cell" class="n"><rect x="1473.4" y="940.5" width="80.5" height="23.6"/><text class="s" x="1479.5" y="950.2">bitpit::const_iterator</text><text class="m" x="1513.65" y="959.1">&lt; Cell &gt;</text></g>
<g id="n_cr_cell" class="n"><rect x="1475.7" y="988.8" width="75.7" height="23.6"/><text class="s" x="1481.8" y="998.5">bitpit::const_range</text><text class="m" x="1513.55" y="1007.4">&lt; Cell &gt;</text></g>
<g id="n_ci_vertex" class="n"><rect x="1473.4" y="1047.1" width="80.5" height="23.9"/><text class="s" x="1479.5" y="1056.8">bitpit::const_iterator</text><text class="m" x="1513.65" y="1065.7">&lt; Vertex &gt;</text></g>
<g id="n_cr_interface" class="n"><rect x="1475.7" y="1092.3" width="75.7" height="23.7"/><text class="s" x="1481.8" y="1102">bitpit::const_range</text><text class="m" x="1513.55" y="1110.9">&lt; Interface &gt;</text></g>
<g id="n_r_vertex" class="n"><rect x="1468.9" y="1137.5" width="89.3" height="15"/><text class="m" x="1513.55" y="1147.7">bitpit::range&lt; Vertex &gt;</text></g>
<g id="n_r_cell" class="n"><rect x="1473.4" y="1181.9" width="80.5" height="14.8"/><text class="m" x="1513.65" y="1192">bitpit::range&lt; Cell &gt;</text></g>
</g>
</svg>
